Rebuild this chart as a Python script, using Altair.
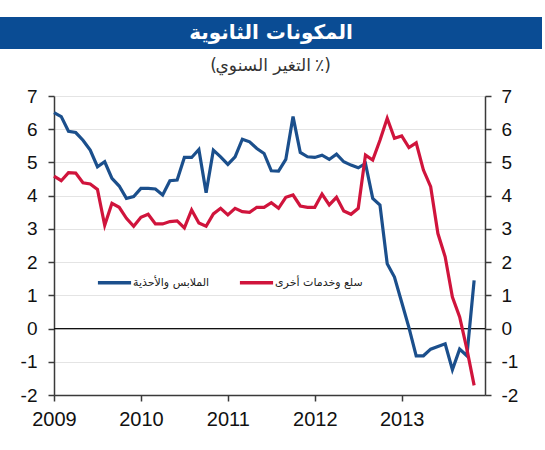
import altair as alt
import pandas as pd

title_text = "المكونات الثانوية"
subtitle_open = "("
subtitle_words = "التغير السنوي"
subtitle_close = "٪)"
series_names = ["الملابس والأحذية", "سلع وخدمات أخرى"]
series_colors = ["#1b4f8c", "#d0143c"]
year_labels = ["2009", "2010", "2011", "2012", "2013"]
year_ticks = [0, 12, 24, 36, 48]
y_ticks = [-2, -1, 0, 1, 2, 3, 4, 5, 6, 7]

# monthly values, Jan 2009 .. Nov 2013
clothing = [6.50, 6.38, 5.94, 5.90, 5.67, 5.37, 4.87, 5.02, 4.52, 4.29, 3.92, 3.97,
            4.22, 4.22, 4.20, 4.02, 4.45, 4.47, 5.15, 5.15, 5.39, 4.09, 5.37, 5.17,
            4.94, 5.17, 5.70, 5.62, 5.42, 5.27, 4.75, 4.74, 5.09, 6.38, 5.30, 5.17,
            5.15, 5.22, 5.09, 5.25, 5.02, 4.92, 4.84, 4.97, 3.92, 3.72, 1.95, 1.55,
            0.79, 0.03, -0.82, -0.82, -0.62, -0.54, -0.46, -1.24, -0.62, -0.82, 1.45]
other = [4.59, 4.45, 4.69, 4.68, 4.39, 4.35, 4.19, 3.11, 3.77, 3.65, 3.32, 3.08,
         3.35, 3.44, 3.15, 3.15, 3.22, 3.24, 3.03, 3.57, 3.18, 3.08, 3.45, 3.62,
         3.42, 3.62, 3.52, 3.50, 3.65, 3.65, 3.79, 3.62, 3.95, 4.02, 3.69, 3.65,
         3.65, 4.05, 3.72, 3.95, 3.54, 3.44, 3.62, 5.22, 5.07, 5.67, 6.33, 5.73,
         5.80, 5.45, 5.59, 4.77, 4.27, 2.86, 2.16, 0.95, 0.35, -0.62, -1.71]

rows = []
for name, vals in zip(series_names, [clothing, other]):
    for i, v in enumerate(vals):
        rows.append({"m": i, "v": v, "s": name})
df = pd.DataFrame(rows)

num_font = "Liberation Sans"
ar_font = "DejaVu Sans"
axis_col = "#3a3a3a"

x_scale = alt.Scale(domain=[0, 59.5], nice=False, zero=False)
y_scale = alt.Scale(domain=[-2, 7], nice=False, zero=False)

label_expr = "[" + ",".join("'%s'" % l for l in year_labels) + "][datum.value/12]"

common_axis = dict(domainColor=axis_col, tickColor=axis_col, domainWidth=1.5,
                   tickWidth=1.5, labelColor="#111", labelFont=num_font, title=None,
                   labelFlush=False, labelOverlap=False)

lines = alt.Chart(df).mark_line(strokeWidth=3.2).encode(
    x=alt.X("m:Q", scale=x_scale,
            axis=alt.Axis(values=year_ticks, labelExpr=label_expr, grid=False,
                          tickSize=6, labelPadding=8, labelFontSize=20, **common_axis)),
    y=alt.Y("v:Q", scale=y_scale,
            axis=alt.Axis(orient="left", values=y_ticks, grid=True, gridColor="#e4e4e4",
                          gridWidth=1, tickSize=6, labelPadding=11, labelFontSize=19,
                          labelExpr="'' + datum.value", **common_axis)),
    color=alt.Color("s:N", scale=alt.Scale(domain=series_names, range=series_colors),
                    legend=alt.Legend(title=None, orient="none", legendX=42, legendY=168,
                                      direction="horizontal", symbolType="stroke",
                                      symbolSize=1100, symbolStrokeWidth=3.5,
                                      labelFont=ar_font, labelFontSize=11, labelOffset=0,
                                      columnPadding=22, padding=0, labelColor="#222")),
)

zero = alt.Chart(pd.DataFrame({"v": [0]})).mark_rule(color="#111", strokeWidth=1.2).encode(
    y=alt.Y("v:Q", scale=y_scale,
            axis=alt.Axis(orient="right", values=y_ticks, grid=False, tickSize=6,
                          labelPadding=10, labelFontSize=19,
                          labelExpr="'' + datum.value", **common_axis))
)

one = pd.DataFrame({"a": [0]})
bar = alt.Chart(one).mark_rect(color="#0a4c94").encode(
    x=alt.value(-54), x2=alt.value(488), y=alt.value(-79), y2=alt.value(-47)
)
title = alt.Chart(one).mark_text(font=ar_font, fontSize=20, fontWeight="bold",
                                 color="white", align="center", baseline="middle").encode(
    x=alt.value(217), y=alt.value(-63), text=alt.value(title_text)
)
sub_style = dict(font=ar_font, fontSize=17, color="#333", baseline="middle")
sub_words = alt.Chart(one).mark_text(align="right", **sub_style).encode(
    x=alt.value(257), y=alt.value(-30), text=alt.value(subtitle_words)
)
sub_open = alt.Chart(one).mark_text(align="right", **sub_style).encode(
    x=alt.value(163), y=alt.value(-30), text=alt.value(subtitle_open)
)
sub_close = alt.Chart(one).mark_text(align="left", **sub_style).encode(
    x=alt.value(261), y=alt.value(-30), text=alt.value(subtitle_close)
)

chart = alt.layer(zero, lines, bar, title, sub_words, sub_open, sub_close).resolve_scale(
    y="independent"
).properties(
    width=431, height=299,
    autosize=alt.AutoSizeParams(type="none"),
    padding={"left": 54, "top": 96, "right": 60, "bottom": 55},
    background="white",
).configure_view(stroke=None)

chart.save("out.html", embed_options={"renderer": "svg", "actions": False})
